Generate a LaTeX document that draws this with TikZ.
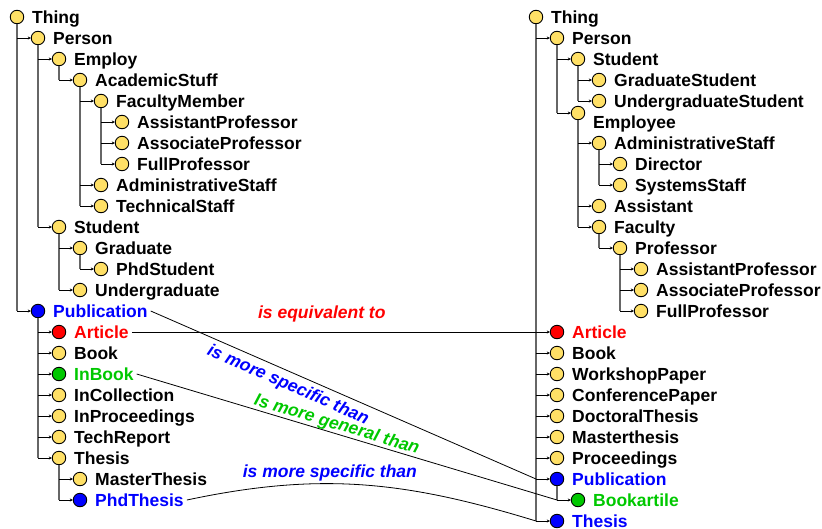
\documentclass[tikz,border=0pt]{standalone}
\usepackage{fontspec}
\setmainfont{Liberation Sans}
\usetikzlibrary{arrows.meta}

\definecolor{ylw}{RGB}{255,224,102}
\definecolor{grn}{RGB}{0,200,0}

\tikzset{
  dot/.style={circle, draw=black, line width=0.9pt, minimum size=13.5pt, inner sep=0pt},
  lbl/.style={anchor=west, inner sep=3pt, text height=12.5pt, text depth=0pt,
    font=\fontsize{17.5}{17.5}\selectfont\bfseries},
  rel/.style={font=\fontsize{17.5}{17.5}\selectfont\bfseries\itshape, inner sep=2pt},
  trunk/.style={draw=black!60, line width=1.1pt},
  stub/.style={-{Stealth[length=3pt,width=3pt]}, line width=0.9pt},
  link/.style={line width=0.8pt}
}

% \cls{name}{x}{y}{fill}{text colour}{text}
\newcommand{\cls}[6]{%
  \node[dot, fill=#4] (#1) at (#2,#3) {};
  \node[lbl, text=#5] (#1t) at (#2+12,#3) {#6};}

\begin{document}
\begin{tikzpicture}[x=1pt,y=-1pt]
\useasboundingbox (0,0) rectangle (822,528);

% left ontology
\cls{lThing}{17}{17}{ylw}{black}{Thing}
\cls{lPerson}{38}{38}{ylw}{black}{Person}
\cls{lEmploy}{59}{59}{ylw}{black}{Employ}
\cls{lAcad}{80}{80}{ylw}{black}{AcademicStuff}
\cls{lFac}{101}{101}{ylw}{black}{FacultyMember}
\cls{lAsst}{122}{122}{ylw}{black}{AssistantProfessor}
\cls{lAssoc}{122}{143}{ylw}{black}{AssociateProfessor}
\cls{lFull}{122}{164}{ylw}{black}{FullProfessor}
\cls{lAdmin}{101}{185}{ylw}{black}{AdministrativeStaff}
\cls{lTechS}{101}{206}{ylw}{black}{TechnicalStaff}
\cls{lStud}{59}{227}{ylw}{black}{Student}
\cls{lGrad}{80}{248}{ylw}{black}{Graduate}
\cls{lPhdS}{101}{269}{ylw}{black}{PhdStudent}
\cls{lUnder}{80}{290}{ylw}{black}{Undergraduate}
\cls{lPub}{38}{311}{blue}{blue}{Publication}
\cls{lArt}{59}{332}{red}{red}{Article}
\cls{lBook}{59}{353}{ylw}{black}{Book}
\cls{lInBook}{59}{374}{grn}{grn}{InBook}
\cls{lInCol}{59}{395}{ylw}{black}{InCollection}
\cls{lInProc}{59}{416}{ylw}{black}{InProceedings}
\cls{lTechR}{59}{437}{ylw}{black}{TechReport}
\cls{lThesis}{59}{458}{ylw}{black}{Thesis}
\cls{lMaster}{80}{479}{ylw}{black}{MasterThesis}
\cls{lPhdT}{80}{500}{blue}{blue}{PhdThesis}

\foreach \p/\c in {lThing/lPub, lPerson/lStud, lEmploy/lAcad, lAcad/lTechS,
    lFac/lFull, lStud/lUnder, lGrad/lPhdS, lPub/lThesis, lThesis/lPhdT}
  \draw[trunk] (\p.south) -- (\p |- \c);
\foreach \p/\c in {lThing/lPerson, lThing/lPub, lPerson/lEmploy, lPerson/lStud,
    lEmploy/lAcad, lAcad/lFac, lAcad/lAdmin, lAcad/lTechS, lFac/lAsst,
    lFac/lAssoc, lFac/lFull, lStud/lGrad, lStud/lUnder, lGrad/lPhdS,
    lPub/lArt, lPub/lBook, lPub/lInBook, lPub/lInCol, lPub/lInProc,
    lPub/lTechR, lPub/lThesis, lThesis/lMaster, lThesis/lPhdT}
  \draw[stub] (\p |- \c) -- (\c.west);

% right ontology
\cls{rThing}{536}{17}{ylw}{black}{Thing}
\cls{rPerson}{557}{38}{ylw}{black}{Person}
\cls{rStud}{578}{59}{ylw}{black}{Student}
\cls{rGrad}{599}{80}{ylw}{black}{GraduateStudent}
\cls{rUnder}{599}{101}{ylw}{black}{UndergraduateStudent}
\node[dot, fill=ylw] (rEmp) at (578,113) {};
\node[lbl] (rEmpt) at (590,122) {Employee};
\cls{rAdmin}{599}{143}{ylw}{black}{AdministrativeStaff}
\cls{rDir}{620}{164}{ylw}{black}{Director}
\cls{rSys}{620}{185}{ylw}{black}{SystemsStaff}
\cls{rAsst}{599}{206}{ylw}{black}{Assistant}
\cls{rFac}{599}{227}{ylw}{black}{Faculty}
\cls{rProf}{620}{248}{ylw}{black}{Professor}
\cls{rAsstP}{641}{269}{ylw}{black}{AssistantProfessor}
\cls{rAssocP}{641}{290}{ylw}{black}{AssociateProfessor}
\cls{rFullP}{641}{311}{ylw}{black}{FullProfessor}
\cls{rArt}{557}{332}{red}{red}{Article}
\cls{rBook}{557}{353}{ylw}{black}{Book}
\cls{rWork}{557}{374}{ylw}{black}{WorkshopPaper}
\cls{rConf}{557}{395}{ylw}{black}{ConferencePaper}
\cls{rDoct}{557}{416}{ylw}{black}{DoctoralThesis}
\cls{rMast}{557}{437}{ylw}{black}{Masterthesis}
\cls{rProc}{557}{458}{ylw}{black}{Proceedings}
\cls{rPub}{557}{479}{blue}{blue}{Publication}
\cls{rBookA}{578}{500}{grn}{grn}{Bookartile}
\cls{rThesis}{557}{521}{blue}{blue}{Thesis}

\foreach \p/\c in {rThing/rThesis, rPerson/rEmp, rStud/rUnder, rEmp/rFac,
    rAdmin/rSys, rFac/rProf, rProf/rFullP, rPub/rBookA}
  \draw[trunk] (\p.south) -- (\p |- \c);
\foreach \p/\c in {rThing/rPerson, rPerson/rStud, rPerson/rEmp, rStud/rGrad,
    rStud/rUnder, rEmp/rAdmin, rEmp/rAsst, rEmp/rFac, rAdmin/rDir,
    rAdmin/rSys, rFac/rProf, rProf/rAsstP, rProf/rAssocP, rProf/rFullP,
    rThing/rArt, rThing/rBook, rThing/rWork, rThing/rConf, rThing/rDoct,
    rThing/rMast, rThing/rProc, rThing/rPub, rThing/rThesis, rPub/rBookA}
  \draw[stub] (\p |- \c) -- (\c.west);

% mappings
\draw[link] (lArtt.east) -- node[rel, text=red, above=7pt, pos=0.47] {is equivalent to}
  (rArt.west -| rThing);
\draw[link] (lPubt.east) -- node[rel, text=blue, sloped, below=3pt, pos=0.37] {is more specific than}
  (rPub.west -| rThing);
\draw[link] (lInBookt.east) -- node[rel, text=grn, sloped, above, pos=0.47, inner sep=0pt] {Is more general than}
  (rBookA.west -| rPub);
\draw[link] (lPhdTt.east) to[out=12, in=163]
  node[rel, text=blue, above, pos=0.4] {is more specific than} (rThesis.west -| rThing);
\end{tikzpicture}
\end{document}
